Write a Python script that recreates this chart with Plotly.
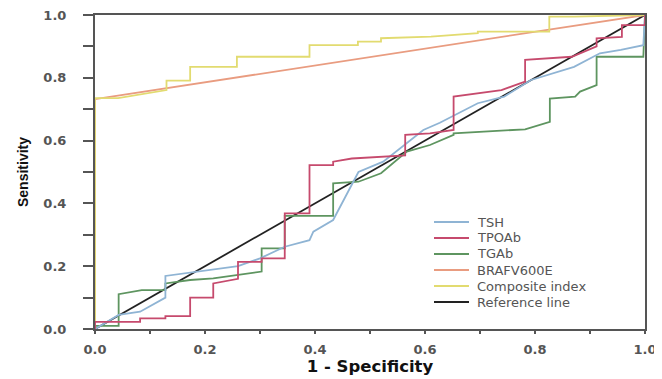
import plotly.graph_objects as go

# ---- data ----
series_names = ["TSH", "TPOAb", "TGAb", "BRAFV600E", "Composite index", "Reference line"]
series_colors = ["#8fb4d4", "#c64a6d", "#5e9560", "#e99c80", "#e2db70", "#222222"]

tsh_fpr = [0, 0.043, 0.082, 0.128, 0.128, 0.26, 0.30, 0.345, 0.39, 0.397, 0.433, 0.479, 0.524,
           0.597, 0.627, 0.696, 0.744, 0.793, 0.871, 0.918, 0.956, 0.997, 1]
tsh_sens = [0, 0.045, 0.055, 0.10, 0.169, 0.20, 0.225, 0.262, 0.283, 0.31, 0.347, 0.50, 0.533,
            0.634, 0.657, 0.719, 0.74, 0.793, 0.835, 0.878, 0.889, 0.904, 1]

tpo_fpr = [0, 0, 0.082, 0.082, 0.128, 0.128, 0.173, 0.173, 0.215, 0.215, 0.26, 0.26, 0.303, 0.303,
           0.345, 0.345, 0.39, 0.39, 0.433, 0.433, 0.467, 0.564, 0.564, 0.609, 0.652, 0.652, 0.739,
           0.782, 0.782, 0.867, 0.912, 0.912, 0.958, 0.958, 1, 1]
tpo_sens = [0, 0.023, 0.023, 0.034, 0.034, 0.041, 0.041, 0.10, 0.10, 0.145, 0.16, 0.214, 0.214, 0.225,
            0.225, 0.368, 0.368, 0.522, 0.522, 0.533, 0.543, 0.553, 0.618, 0.623, 0.634, 0.74, 0.761,
            0.788, 0.857, 0.867, 0.90, 0.926, 0.93, 0.968, 0.968, 1]

tga_fpr = [0, 0, 0.043, 0.043, 0.085, 0.128, 0.128, 0.173, 0.215, 0.303, 0.303, 0.345, 0.345, 0.433,
           0.433, 0.479, 0.52, 0.567, 0.609, 0.652, 0.652, 0.782, 0.827, 0.827, 0.873, 0.882, 0.912,
           0.912, 0.997, 1]
tga_sens = [0, 0.01, 0.01, 0.111, 0.124, 0.124, 0.145, 0.156, 0.161, 0.183, 0.257, 0.257, 0.36, 0.36,
            0.464, 0.469, 0.496, 0.565, 0.586, 0.618, 0.623, 0.636, 0.66, 0.734, 0.74, 0.756, 0.777,
            0.867, 0.867, 1]

braf_fpr = [0, 0, 1]
braf_sens = [0, 0.732, 1]

comp_fpr = [0, 0, 0.042, 0.13, 0.13, 0.173, 0.173, 0.258, 0.258, 0.39, 0.39, 0.478, 0.478, 0.52,
            0.52, 0.611, 0.696, 0.696, 0.826, 0.826, 0.871, 1]
comp_sens = [0, 0.735, 0.735, 0.761, 0.791, 0.791, 0.835, 0.835, 0.867, 0.867, 0.904, 0.904, 0.915,
             0.915, 0.926, 0.931, 0.942, 0.947, 0.947, 0.995, 0.995, 1]

ref_fpr = [0, 1]
ref_sens = [0, 1]

tick_vals = [0, 0.1, 0.2, 0.3, 0.4, 0.5, 0.6, 0.7, 0.8, 0.9, 1.0]
tick_text = ["0.0", "", "0.2", "", "0.4", "", "0.6", "", "0.8", "", "1.0"]

# ---- figure ----
xs = [tsh_fpr, tpo_fpr, tga_fpr, braf_fpr, comp_fpr, ref_fpr]
ys = [tsh_sens, tpo_sens, tga_sens, braf_sens, comp_sens, ref_sens]

fig = go.Figure()
order = [5, 3, 4, 2, 0, 1]
for i in order:
    fig.add_trace(go.Scatter(x=xs[i], y=ys[i], mode="lines", name=series_names[i],
                             line=dict(color=series_colors[i], width=1.8),
                             showlegend=False, hoverinfo="skip"))

# page places the figure 8px in from the window corner (body margin)
OFF = 8
WIN_W, WIN_H = 662, 379
PL, PR, PT, PB = 95, 645, 15, 329   # plot area in window pixels
W, H = WIN_W - OFF, WIN_H - OFF
L, T = PL - OFF, PT - OFF
R, B = W - (PR - OFF), H - (PB - OFF)

def px2x(px):
    return (px - PL) / (PR - PL)

def py2y(py):
    return (PB - py) / (PB - PT)

shapes = []
annotations = []
for i, name in enumerate(series_names):
    yy = py2y(222 + 16 * i)
    shapes.append(dict(type="line", xref="paper", yref="paper",
                       x0=px2x(434), x1=px2x(469), y0=yy, y1=yy,
                       line=dict(color=series_colors[i], width=1.8)))
    annotations.append(dict(xref="paper", yref="paper", x=px2x(476), y=yy,
                            text=name, showarrow=False, xanchor="left", yanchor="middle",
                            borderpad=0,
                            font=dict(family="DejaVu Sans, sans-serif", size=13,
                                      color="#555555")))

tickfont = dict(family="DejaVu Sans, sans-serif", size=13, color="#555555", weight="bold")
xtitlefont = dict(family="DejaVu Sans, sans-serif", size=16.5, color="#111111", weight="bold")
ytitlefont = dict(family="Liberation Sans, Arial, sans-serif", size=14, color="#111111", weight="bold")

fig.update_layout(
    width=W, height=H,
    margin=dict(l=L, r=R, t=T, b=B, pad=0, autoexpand=False),
    paper_bgcolor="white", plot_bgcolor="white",
    shapes=shapes, annotations=annotations,
    showlegend=False,
    xaxis=dict(range=[0, 1], tickvals=tick_vals, ticktext=tick_text, ticks="outside",
               ticklen=3, tickcolor="#555555", tickwidth=1.5, automargin=False,
               ticklabeloverflow="allow",
               showgrid=False, zeroline=False, showline=True, linecolor="#555555", linewidth=2,
               mirror=True, tickfont=tickfont, ticklabelstandoff=4,
               title=dict(text="1 - Specificity", font=xtitlefont, standoff=4)),
    yaxis=dict(range=[0, 1], tickvals=tick_vals, ticktext=tick_text, ticks="outside",
               ticklen=10, tickcolor="#555555", tickwidth=1.5, automargin=False,
               ticklabeloverflow="allow",
               showgrid=False, zeroline=False, showline=True, linecolor="#555555", linewidth=2,
               mirror=True, tickfont=tickfont, ticklabelstandoff=14,
               title=dict(text="Sensitivity", font=ytitlefont, standoff=11)),
)

fig.write_html("out.html")
